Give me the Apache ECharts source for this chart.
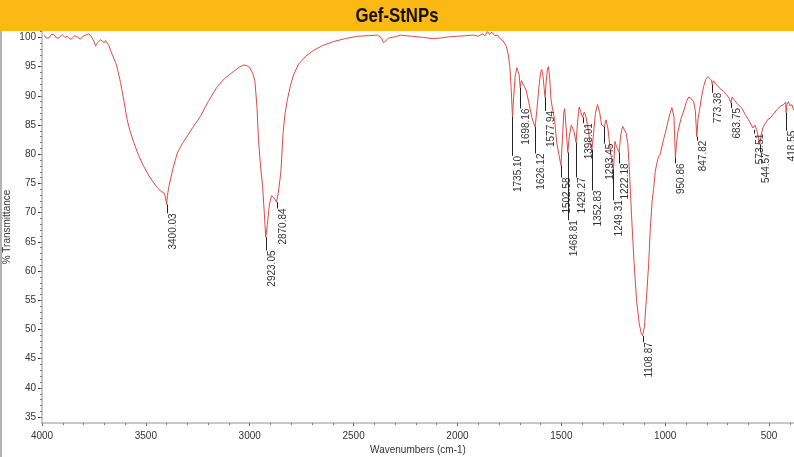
<!DOCTYPE html>
<html>
<head>
<meta charset="utf-8">
<title>Gef-StNPs</title>
<script src="https://cdn.jsdelivr.net/npm/echarts@6.0.0/dist/echarts.min.js"></script>
<style>
  html, body { margin: 0; padding: 0; background: #fff; }
  #chart { width: 794px; height: 457px; }
</style>
</head>
<body>
<div id="chart"></div>
<script>
// spectrum (cm-1, % transmittance)
var wavenumber = [
    3991, 3980, 3967, 3955, 3943, 3930, 3919, 3903, 3890, 3879, 3865, 3855, 3843, 3831, 3815, 3803, 3791, 3775, 3765, 3758,
    3748, 3742, 3735, 3727, 3718, 3710, 3700, 3694, 3685, 3678, 3668, 3662, 3654, 3646, 3640, 3635, 3630, 3622, 3605, 3590,
    3575, 3558, 3535, 3510, 3485, 3462, 3445, 3429, 3410, 3403, 3400, 3396, 3389, 3370, 3349, 3325, 3301, 3270, 3237, 3200,
    3156, 3120, 3077, 3050, 3028, 3010, 3000, 2985, 2975, 2965, 2958, 2948, 2938, 2930, 2923, 2915, 2905, 2895, 2885, 2878,
    2871, 2862, 2850, 2840, 2830, 2819, 2805, 2789, 2765, 2730, 2692, 2650, 2596, 2540, 2481, 2430, 2385, 2365, 2356, 2345,
    2332, 2300, 2274, 2220, 2163, 2120, 2082, 2040, 2000, 1960, 1922, 1900, 1880, 1867, 1855, 1845, 1835, 1820, 1807, 1795,
    1780, 1765, 1755, 1748, 1742, 1735, 1730, 1722, 1714, 1708, 1703, 1698, 1692, 1683, 1670, 1656, 1642, 1632, 1626, 1618,
    1608, 1600, 1594, 1587, 1582, 1578, 1574, 1567, 1562, 1556, 1550, 1545, 1540, 1533, 1522, 1512, 1502, 1495, 1488, 1484,
    1478, 1469, 1462, 1452, 1440, 1429, 1422, 1414, 1407, 1398, 1390, 1382, 1372, 1362, 1353, 1345, 1336, 1326, 1316, 1306,
    1293, 1285, 1276, 1265, 1256, 1249, 1242, 1236, 1228, 1222, 1214, 1205, 1198, 1188, 1180, 1172, 1162, 1150, 1138, 1125,
    1115, 1109, 1100, 1090, 1080, 1072, 1063, 1056, 1048, 1040, 1032, 1024, 1016, 1008, 1000, 992, 984, 976, 968, 963,
    958, 951, 946, 940, 925, 909, 898, 887, 876, 863, 855, 848, 842, 835, 824, 815, 805, 795, 786, 778,
    773, 768, 760, 750, 735, 720, 705, 692, 684, 678, 665, 650, 631, 615, 599, 585, 578, 574, 568, 560,
    552, 545, 538, 530, 519, 505, 495, 480, 463, 447, 431, 420, 418, 414, 407, 400, 390, 382
];
var transmittance = [
    100.4, 99.9, 99.9, 100.5, 100.5, 99.9, 99.9, 100.5, 100.0, 100.2, 99.7, 99.8, 100.3, 100.1, 99.7, 100.2, 100.4, 100.6, 100.3, 100.2,
    99.2, 98.5, 99.0, 99.1, 99.6, 99.4, 99.1, 99.5, 99.2, 98.6, 97.6, 97.1, 97.4, 95.7, 95.1, 94.3, 94.6, 92.3, 89.0, 85.9,
    83.8, 82.0, 79.8, 77.9, 76.3, 75.1, 74.3, 73.7, 73.3, 73.2, 71.4, 73.0, 74.5, 77.5, 80.2, 81.8, 83.1, 84.8, 86.5, 89.0,
    91.6, 93.0, 94.2, 94.9, 95.3, 95.1, 94.8, 93.8, 92.5, 88.0, 82.5, 78.0, 74.5, 70.0, 65.8, 68.0, 71.5, 72.9, 72.6, 72.2,
    71.8, 73.5, 77.0, 83.5, 87.0, 89.3, 91.6, 93.6, 95.4, 96.8, 97.8, 98.6, 99.3, 99.8, 100.2, 100.3, 100.4, 99.9, 99.1, 99.4,
    99.9, 100.1, 100.4, 100.2, 100.0, 99.8, 99.9, 100.1, 100.2, 100.3, 100.4, 100.2, 100.6, 100.3, 101.0, 100.5, 100.9, 100.3, 100.4, 99.8,
    99.4, 98.5, 97.0, 95.0, 91.5, 86.4, 89.5, 93.5, 94.8, 94.5, 93.6, 91.4, 92.6, 92.3, 91.0, 88.8, 86.3, 85.2, 84.7, 87.5,
    91.5, 94.0, 94.5, 93.0, 91.0, 89.7, 92.0, 94.6, 95.0, 93.0, 89.5, 88.3, 88.6, 86.0, 82.0, 80.0, 78.1, 82.5, 87.2, 87.8,
    85.0, 80.3, 83.0, 85.0, 84.0, 82.0, 85.5, 88.1, 87.3, 86.3, 87.2, 86.5, 84.5, 82.0, 80.8, 83.5, 87.0, 88.5, 87.3, 85.0,
    84.7, 85.9, 84.5, 81.0, 78.5, 77.4, 82.2, 81.5, 80.8, 80.3, 83.3, 84.8, 84.6, 83.6, 81.8, 77.0, 69.5, 61.5, 55.0, 51.0,
    49.3, 48.9, 50.5, 55.5, 61.0, 67.1, 72.0, 74.0, 77.0, 78.5, 79.6, 80.0, 81.3, 82.5, 83.6, 84.8, 86.0, 87.1, 88.0, 88.1,
    86.5, 79.4, 81.5, 83.6, 86.0, 87.6, 89.0, 89.8, 89.6, 89.0, 87.5, 83.0, 86.0, 87.5, 90.0, 91.6, 92.8, 93.3, 93.0, 92.7,
    91.9, 92.6, 92.4, 91.8, 91.2, 90.8, 90.2, 89.6, 88.8, 89.8, 89.2, 88.5, 87.9, 86.8, 85.9, 85.0, 84.5, 84.2, 85.0, 84.2,
    83.0, 81.7, 83.3, 84.5, 85.2, 86.0, 86.2, 86.8, 87.6, 88.2, 88.5, 88.9, 87.1, 88.6, 89.0, 88.3, 88.5, 87.6
];

// peak picks: label, tip of the peak, and where the label starts (both in % T)
var peakLabels = ['3400.03', '2923.05', '2870.84', '1735.10', '1698.16', '1626.12', '1577.94', '1502.58',
    '1468.81', '1429.27', '1398.01', '1352.83', '1293.45', '1249.31', '1222.18', '1108.87', '950.86',
    '847.82', '773.38', '683.75', '573.51', '544.57', '418.55'];
var peakTip = [71.4, 65.8, 71.8, 86.4, 91.4, 84.7, 89.7, 78.1, 80.3, 82.0, 86.3, 80.8, 84.7, 77.4, 80.3,
    48.9, 79.4, 83.0, 91.9, 88.8, 84.2, 81.7, 87.1];
var peakLabelTop = [70.05, 63.7, 70.9, 79.9, 88.0, 80.3, 87.6, 76.2, 68.9, 76.2, 85.5, 74.0, 82.0, 72.3, 78.6,
    48.0, 78.6, 82.5, 90.7, 88.1, 83.7, 80.5, 84.2];

// axis ticks
var xLabelTicks = [500, 1000, 1500, 2000, 2500, 3000, 3500, 4000];
var yLabelTicks = [35, 40, 45, 50, 55, 60, 65, 70, 75, 80, 85, 90, 95, 100];

var xMinorTicks = [];
for (var t = 400; t <= 4000; t += 100) xMinorTicks.push(t);
var yMinorTicks = [];
for (var v = 35; v <= 101; v += 1) yMinorTicks.push(v);

var spectrum = wavenumber.map(function (w, i) { return [w, transmittance[i]]; });
var peaks = peakLabels.map(function (s, i) { return [parseFloat(s), peakTip[i], peakLabelTop[i], s]; });

var labelFont = '"Liberation Sans Narrow", "Liberation Sans", Arial, sans-serif';

var chart = echarts.init(document.getElementById('chart'), null, { renderer: 'canvas' });

function plain(val) { return String(val); }

function baseX(extra) {
    var o = {
        type: 'value',
        inverse: true,
        min: 380,
        max: 4000,
        splitLine: { show: false },
        axisLine: { lineStyle: { color: '#b5b5b5', width: 1.5 } }
    };
    for (var k in extra) o[k] = extra[k];
    return o;
}

function baseY(extra) {
    var o = {
        type: 'value',
        min: 34,
        max: 101.1,
        splitLine: { show: false },
        axisLine: { lineStyle: { color: '#b5b5b5', width: 1.5 } }
    };
    for (var k in extra) o[k] = extra[k];
    return o;
}

var option = {
    backgroundColor: '#fff',
    animation: false,
    grid: { left: 42, right: 0, top: 31, bottom: 34, containLabel: false, outerBoundsMode: 'none' },
    graphic: [
        { type: 'rect', shape: { x: 0, y: 0, width: 794, height: 31 }, style: { fill: '#FCB814' } },
        {
            type: 'text', x: 397, y: 16, scaleX: 0.8,
            style: {
                text: 'Gef-StNPs', fontSize: 21, fontWeight: 'bold', fontFamily: labelFont,
                fill: '#111', align: 'center', verticalAlign: 'middle',
                shadowColor: 'rgba(0,0,0,0.8)', shadowBlur: 4, shadowOffsetX: 1, shadowOffsetY: 1
            }
        },
        { type: 'line', shape: { x1: 1, y1: 31, x2: 1, y2: 457 }, style: { stroke: '#9a9a9a', lineWidth: 1.5 } }
    ],
    xAxis: [
        baseX({
            name: 'Wavenumbers (cm-1)',
            nameLocation: 'middle',
            nameGap: 22,
            nameMoveOverlap: false,
            nameTextStyle: { fontSize: 10, color: '#333', fontFamily: labelFont },
            axisTick: { customValues: xLabelTicks, length: 3, lineStyle: { color: '#555' } },
            axisLabel: { customValues: xLabelTicks, formatter: plain, fontSize: 10, color: '#333', fontFamily: labelFont, margin: 8 }
        }),
        baseX({
            position: 'bottom',
            axisLine: { show: false },
            axisTick: { customValues: xMinorTicks, length: 2, lineStyle: { color: '#777' } },
            axisLabel: { show: false }
        })
    ],
    yAxis: [
        baseY({
            name: '% Transmittance',
            nameLocation: 'middle',
            nameGap: 30,
            nameMoveOverlap: false,
            nameTextStyle: { fontSize: 10, color: '#333', fontFamily: labelFont },
            axisTick: { customValues: yLabelTicks, length: 4, lineStyle: { color: '#333' } },
            axisLabel: { customValues: yLabelTicks, formatter: plain, fontSize: 10, color: '#333', fontFamily: labelFont, margin: 6 }
        }),
        baseY({
            position: 'left',
            axisLine: { show: false },
            axisTick: { customValues: yMinorTicks, length: 2, lineStyle: { color: '#777' } },
            axisLabel: { show: false }
        })
    ],
    series: [
        {
            type: 'line',
            data: spectrum,
            showSymbol: false,
            symbol: 'none',
            lineStyle: { color: '#dd4a46', width: 1 },
            z: 3
        },
        {
            type: 'custom',
            data: peaks,
            z: 4,
            renderItem: function (params, api) {
                var tip = api.coord([api.value(0), api.value(1)]);
                var top = api.coord([api.value(0), api.value(2)]);
                var x = Math.round(tip[0]) + 0.5;
                return {
                    type: 'group',
                    children: [
                        {
                            type: 'line',
                            shape: { x1: x, y1: tip[1], x2: x, y2: top[1] + 1 },
                            style: { stroke: '#222', lineWidth: 1 }
                        },
                        {
                            type: 'text',
                            x: x + 0.5,
                            y: top[1] + 1,
                            rotation: Math.PI / 2,
                            style: {
                                text: peakLabels[params.dataIndex],
                                fontSize: 10,
                                fontFamily: '"Liberation Sans", Arial, sans-serif',
                                fill: '#333',
                                align: 'right',
                                verticalAlign: 'top'
                            }
                        }
                    ]
                };
            }
        }
    ]
};

chart.setOption(option);
</script>
</body>
</html>
